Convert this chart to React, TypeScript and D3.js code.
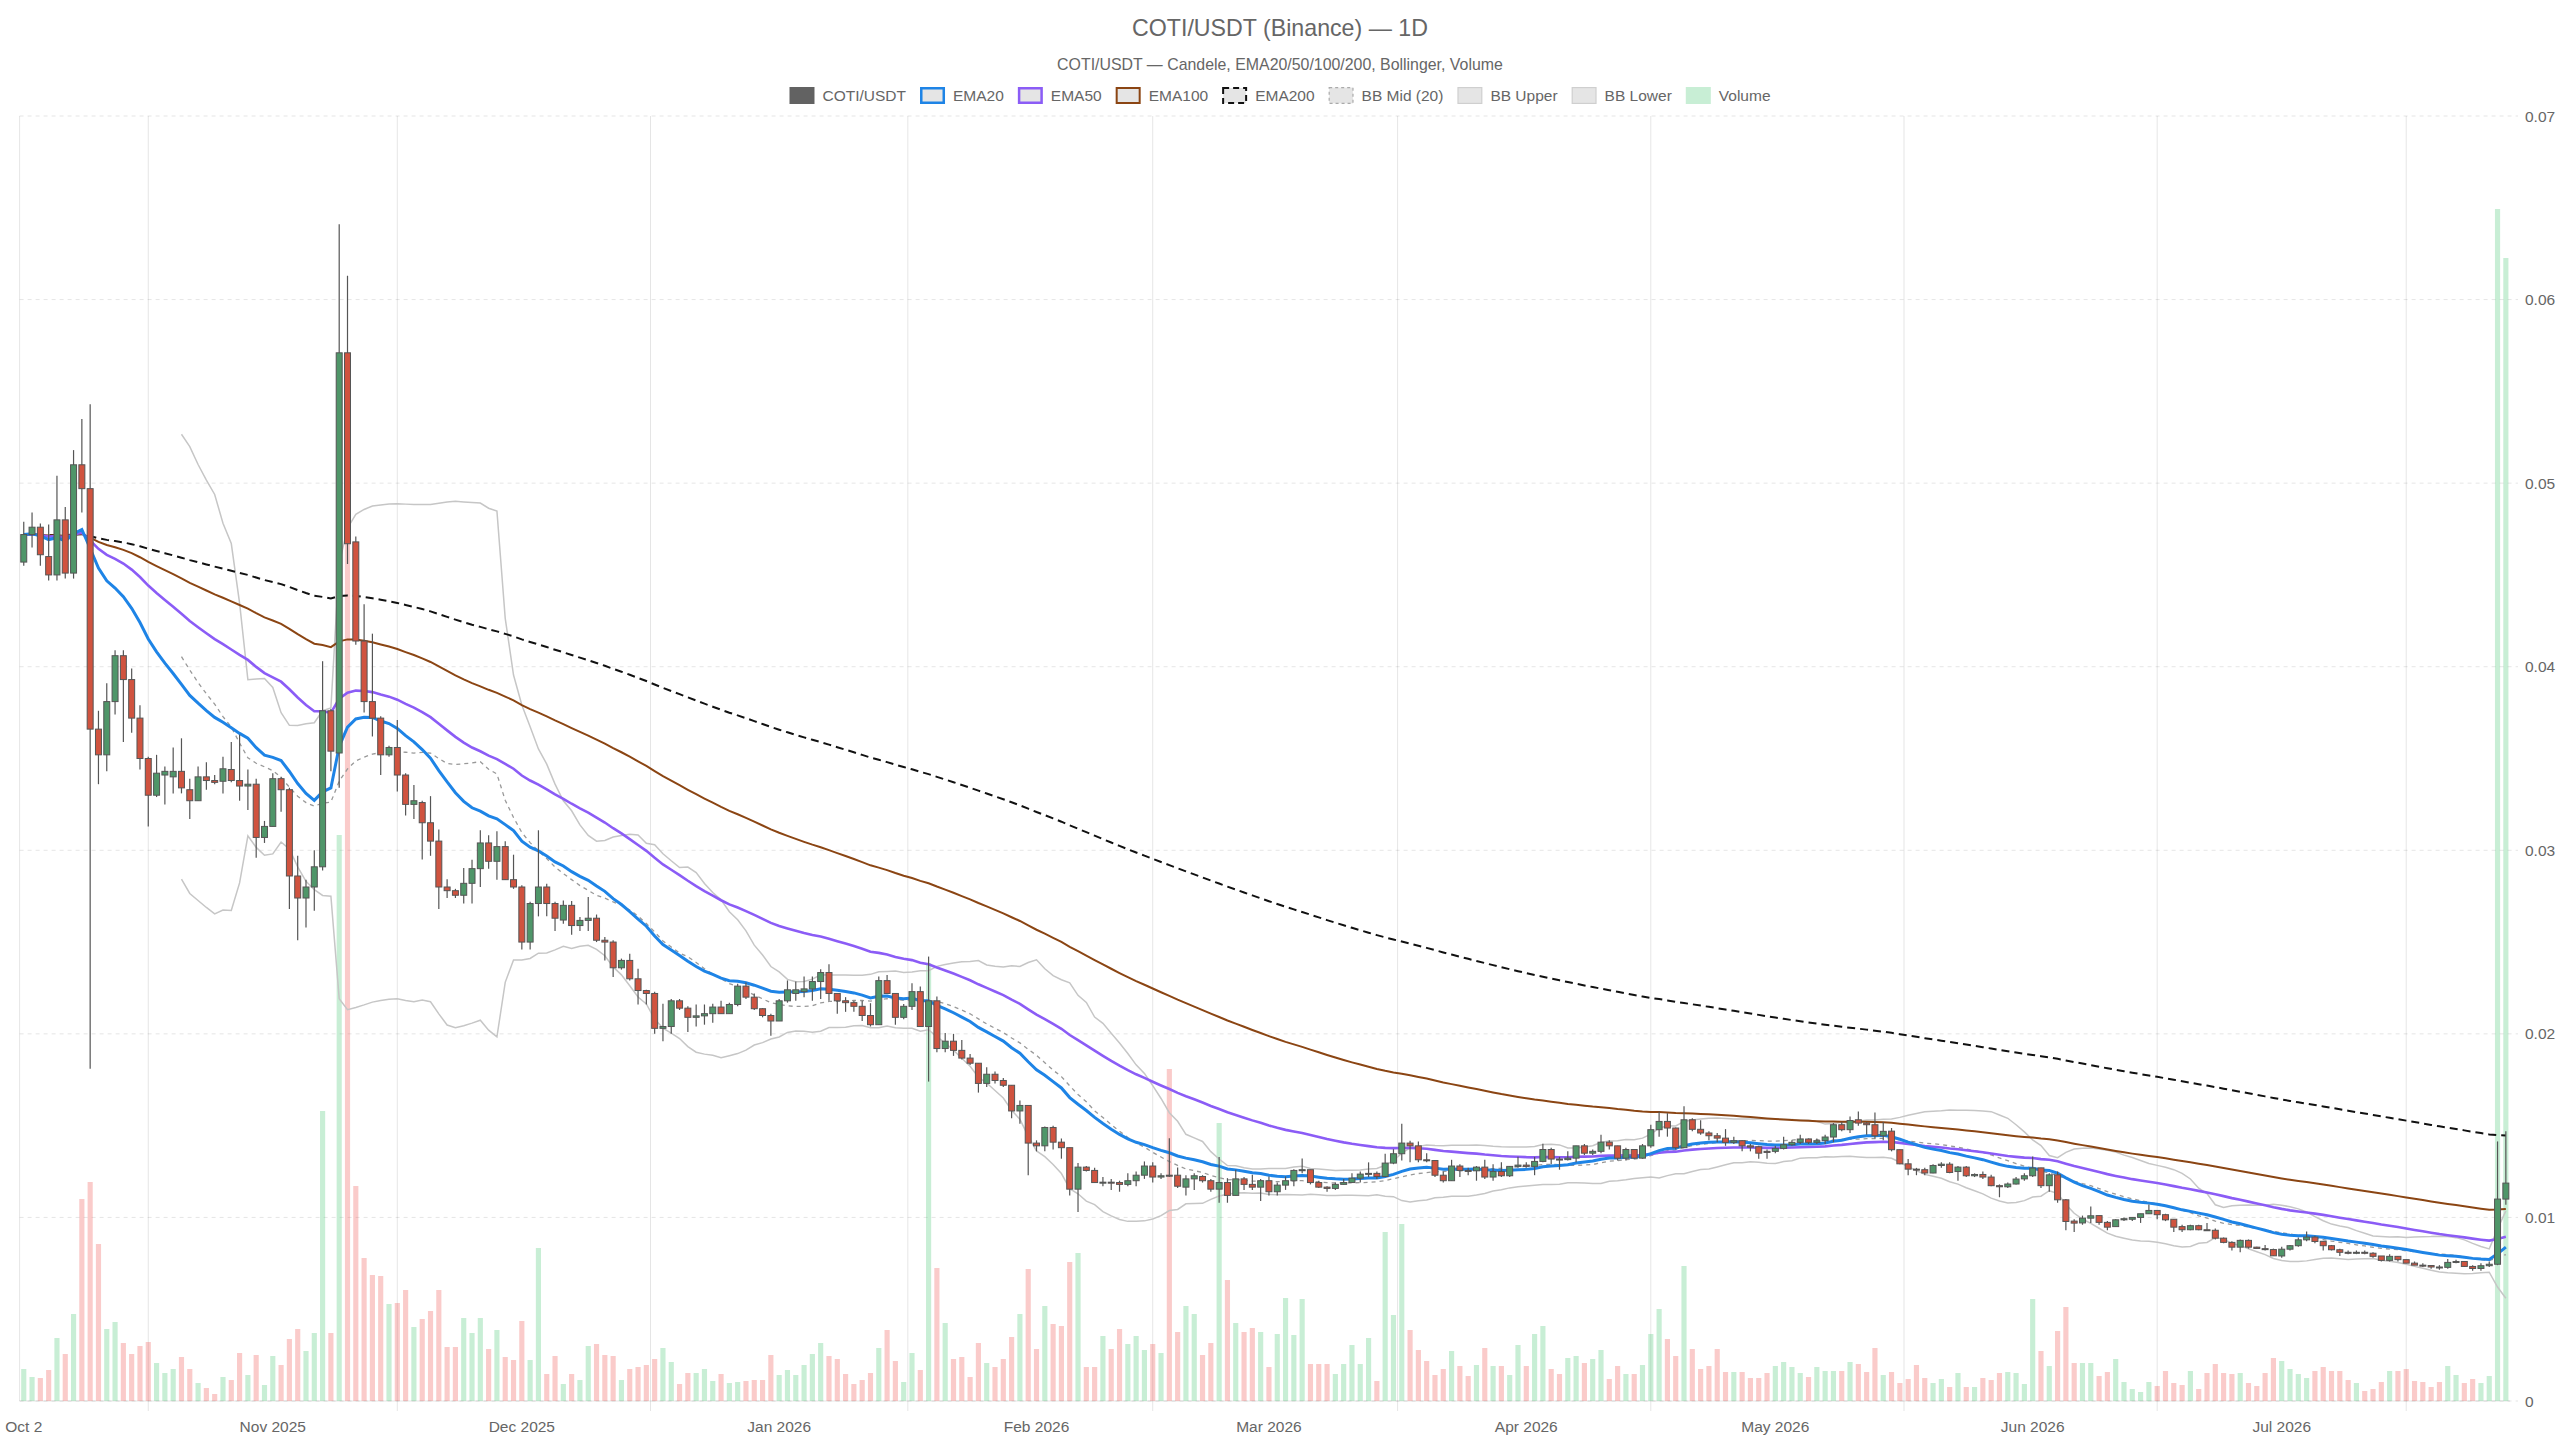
import React, { useMemo } from "react";
import * as d3 from "d3";

// ---------- DATA ----------
const startDate = "2025-10-02";

const open = [
  0.0457, 0.0472, 0.0476, 0.046, 0.045, 0.048, 0.0451, 0.051, 0.0497, 0.0366,
  0.0352, 0.0381, 0.0406, 0.0393, 0.0372, 0.035, 0.033, 0.0341, 0.034, 0.0343,
  0.0333, 0.0327, 0.034, 0.0338, 0.03376, 0.0344, 0.0338, 0.0335, 0.0336, 0.0307,
  0.0313, 0.0339, 0.0333, 0.0286, 0.0274, 0.028, 0.0291, 0.0376, 0.0353, 0.0571,
  0.0468, 0.0414, 0.0381, 0.0372, 0.0352, 0.0356, 0.0341, 0.0325, 0.0326, 0.0315,
  0.0305, 0.028, 0.0278, 0.02755, 0.0282, 0.029, 0.0304, 0.0294, 0.0302, 0.0284,
  0.028, 0.025, 0.0271, 0.028, 0.0271, 0.0262, 0.027, 0.0259, 0.02618, 0.0263,
  0.0251, 0.025, 0.0236, 0.024, 0.023, 0.02236, 0.0222, 0.0203, 0.0204, 0.0218,
  0.0214, 0.0209, 0.02098, 0.0211, 0.02146, 0.0211, 0.0216, 0.0226, 0.022, 0.02137,
  0.021, 0.0207, 0.0218, 0.0222, 0.0223, 0.02245, 0.02285, 0.02334, 0.0222, 0.0218,
  0.0217, 0.0215, 0.021, 0.0205, 0.0229, 0.0222, 0.0209, 0.0215, 0.0223, 0.0204,
  0.0218, 0.0192, 0.0196, 0.0191, 0.01868, 0.0184, 0.0173, 0.0178, 0.01746, 0.0172,
  0.0158, 0.0161, 0.01405, 0.0139, 0.0149, 0.0141, 0.0138, 0.01154, 0.01274, 0.01256,
  0.0119, 0.01192, 0.0119, 0.0118, 0.012, 0.0123, 0.0128, 0.0122, 0.0123, 0.0123,
  0.01165, 0.0121, 0.01223, 0.012, 0.01154, 0.0119, 0.0112, 0.0121, 0.0118, 0.01165,
  0.012, 0.0114, 0.01176, 0.012, 0.01256, 0.0126, 0.0119, 0.01165, 0.01158, 0.0118,
  0.0119, 0.01214, 0.01236, 0.0124, 0.01223, 0.01296, 0.01347, 0.01405, 0.0139, 0.01314,
  0.0131, 0.0123, 0.012, 0.0128, 0.01256, 0.01254, 0.01274, 0.0122, 0.0125, 0.01227,
  0.01278, 0.01285, 0.01278, 0.01305, 0.0137, 0.01318, 0.01315, 0.01323, 0.0139, 0.0135,
  0.0136, 0.0141, 0.0139, 0.01323, 0.0137, 0.01323, 0.0139, 0.01478, 0.01523, 0.01487,
  0.0138, 0.01532, 0.0148, 0.0146, 0.01445, 0.01432, 0.01409, 0.01418, 0.0139, 0.01385,
  0.0136, 0.0136, 0.01376, 0.01396, 0.01409, 0.01427, 0.01409, 0.01418, 0.01438, 0.01505,
  0.01478, 0.01532, 0.01514, 0.01505, 0.01445, 0.0147, 0.01369, 0.01292, 0.01263, 0.0126,
  0.01242, 0.01283, 0.0129, 0.0125, 0.01274, 0.01227, 0.01234, 0.0122, 0.01173, 0.01167,
  0.01182, 0.0121, 0.01227, 0.0127, 0.01173, 0.01232, 0.01096, 0.0098, 0.0097, 0.00996,
  0.0101, 0.00973, 0.0095, 0.00987, 0.0099, 0.01, 0.0102, 0.01038, 0.01015, 0.0099,
  0.0095, 0.00933, 0.00955, 0.00933, 0.0093, 0.00887, 0.00864, 0.00838, 0.00875, 0.00838,
  0.0083, 0.00825, 0.0079, 0.00827, 0.00846, 0.00878, 0.00893, 0.0087, 0.00846, 0.00824,
  0.0081, 0.00805, 0.0081, 0.00805, 0.0079, 0.00766, 0.00788, 0.0077, 0.00751, 0.0074,
  0.00738, 0.0073, 0.00728, 0.00755, 0.0076, 0.00733, 0.00722, 0.00737, 0.00745, 0.011,
];

const close = [
  0.0472, 0.0476, 0.0461, 0.045, 0.048, 0.0451, 0.051, 0.0497, 0.0366, 0.0352,
  0.0381, 0.0406, 0.0393, 0.0372, 0.035, 0.033, 0.0342, 0.0343, 0.0343, 0.0334,
  0.0327, 0.034, 0.0338, 0.0337, 0.03444, 0.0338, 0.0335, 0.0336, 0.0307, 0.0313,
  0.0339, 0.0333, 0.0286, 0.0274, 0.028, 0.0291, 0.0376, 0.0354, 0.0571, 0.0467,
  0.0414, 0.0381, 0.0372, 0.0352, 0.0356, 0.0341, 0.0325, 0.0327, 0.0315, 0.0305,
  0.028, 0.0278, 0.02755, 0.0282, 0.029, 0.0304, 0.0294, 0.0302, 0.0284, 0.028,
  0.025, 0.0271, 0.028, 0.0271, 0.0263, 0.027, 0.0259, 0.02618, 0.0263, 0.0251,
  0.025, 0.0236, 0.024, 0.023, 0.02236, 0.0222, 0.0203, 0.0204, 0.0218, 0.0214,
  0.0209, 0.02098, 0.0211, 0.02146, 0.0211, 0.0216, 0.0226, 0.022, 0.02137, 0.021,
  0.0207, 0.0218, 0.0224, 0.0224, 0.02245, 0.02285, 0.02334, 0.0222, 0.0218, 0.0217,
  0.0215, 0.021, 0.0205, 0.0229, 0.0222, 0.0209, 0.0215, 0.0223, 0.0204, 0.0218,
  0.0192, 0.0196, 0.0191, 0.01868, 0.0184, 0.0173, 0.0178, 0.01746, 0.0172, 0.0158,
  0.0161, 0.01405, 0.0139, 0.0149, 0.0141, 0.0138, 0.01154, 0.01274, 0.01256, 0.0119,
  0.01192, 0.0119, 0.0118, 0.012, 0.0123, 0.0128, 0.0122, 0.01227, 0.01225, 0.0117,
  0.0121, 0.01227, 0.012, 0.01154, 0.0119, 0.0112, 0.0121, 0.0118, 0.01165, 0.012,
  0.0114, 0.01176, 0.012, 0.01256, 0.0126, 0.0119, 0.01165, 0.01158, 0.0118, 0.0119,
  0.01214, 0.01236, 0.0124, 0.01223, 0.01296, 0.01347, 0.01405, 0.0139, 0.01314, 0.01309,
  0.0123, 0.012, 0.0128, 0.01256, 0.01254, 0.01274, 0.0122, 0.0125, 0.01227, 0.01278,
  0.01285, 0.01278, 0.01305, 0.0137, 0.01318, 0.01315, 0.01323, 0.0139, 0.0135, 0.0136,
  0.0141, 0.0139, 0.01323, 0.0137, 0.01323, 0.0139, 0.01478, 0.01523, 0.01487, 0.0138,
  0.01532, 0.0148, 0.0146, 0.01445, 0.01432, 0.01409, 0.01418, 0.0139, 0.01383, 0.0135,
  0.01354, 0.01376, 0.01396, 0.01409, 0.01427, 0.01409, 0.01418, 0.01438, 0.01505, 0.01478,
  0.01528, 0.01514, 0.01505, 0.01445, 0.01469, 0.01369, 0.01292, 0.01263, 0.0126, 0.01242,
  0.01283, 0.0129, 0.01245, 0.01274, 0.01227, 0.01234, 0.0122, 0.01173, 0.01167, 0.01182,
  0.01209, 0.01227, 0.01269, 0.01173, 0.01232, 0.01096, 0.00978, 0.00969, 0.00996, 0.01009,
  0.00973, 0.00947, 0.00987, 0.00993, 0.01, 0.0102, 0.01038, 0.01015, 0.00987, 0.00947,
  0.00933, 0.00955, 0.00933, 0.0093, 0.00887, 0.00864, 0.00838, 0.00875, 0.00838, 0.00831,
  0.00825, 0.00791, 0.00827, 0.00846, 0.00878, 0.00893, 0.00869, 0.00846, 0.00824, 0.0081,
  0.00805, 0.0081, 0.00805, 0.00788, 0.00766, 0.00788, 0.0077, 0.00751, 0.0074, 0.00738,
  0.0073, 0.00728, 0.00755, 0.0076, 0.00733, 0.00722, 0.00737, 0.00745, 0.011, 0.01187,
];

const high = [
  0.0479, 0.0484, 0.0478, 0.04775, 0.0504, 0.0487, 0.0518, 0.0535, 0.0543, 0.0376,
  0.0391, 0.0409, 0.0409, 0.0399, 0.0379, 0.0351, 0.0352, 0.03456, 0.0356, 0.0361,
  0.0339, 0.03456, 0.0348, 0.0341, 0.0351, 0.0359, 0.0363, 0.0344, 0.0339, 0.0316,
  0.0342, 0.034, 0.0334, 0.0297, 0.0284, 0.03, 0.0403, 0.0377, 0.0641, 0.0613,
  0.0471, 0.0434, 0.0418, 0.0373, 0.0357, 0.0371, 0.0342, 0.03355, 0.0327, 0.03295,
  0.03113, 0.02842, 0.0279, 0.02904, 0.02949, 0.03109, 0.03082, 0.03104, 0.03049, 0.02976,
  0.0281, 0.0272, 0.03109, 0.02818, 0.0272, 0.02727, 0.02724, 0.02636, 0.02745, 0.0265,
  0.02527, 0.0251, 0.0241, 0.02436, 0.02355, 0.0224, 0.0223, 0.02164, 0.0219, 0.0219,
  0.0215, 0.0216, 0.0216, 0.02164, 0.0218, 0.0217, 0.02273, 0.0228, 0.0222, 0.0214,
  0.0211, 0.0219, 0.02291, 0.02285, 0.02312, 0.02312, 0.02352, 0.02379, 0.0222, 0.022,
  0.0218, 0.0218, 0.02167, 0.02312, 0.02321, 0.0222, 0.02163, 0.02276, 0.02258, 0.02421,
  0.02203, 0.02004, 0.02, 0.01967, 0.0189, 0.0184, 0.01818, 0.01795, 0.0176, 0.0172,
  0.01637, 0.0161, 0.0142, 0.01495, 0.015, 0.0143, 0.0138, 0.01296, 0.0128, 0.0127,
  0.0122, 0.0121, 0.012, 0.01241, 0.0125, 0.01305, 0.013, 0.0124, 0.01432, 0.01272,
  0.0123, 0.0124, 0.0123, 0.0121, 0.01329, 0.01214, 0.0126, 0.0122, 0.01232, 0.0121,
  0.01223, 0.0119, 0.01223, 0.01263, 0.01321, 0.0126, 0.012, 0.0117, 0.0119, 0.0121,
  0.01241, 0.0125, 0.013, 0.0125, 0.01347, 0.01372, 0.0151, 0.01418, 0.01414, 0.0135,
  0.0131, 0.0125, 0.01314, 0.0129, 0.0127, 0.0128, 0.01314, 0.0129, 0.013, 0.0128,
  0.0133, 0.013, 0.0133, 0.01401, 0.0138, 0.0133, 0.0136, 0.0139, 0.014, 0.0137,
  0.0145, 0.0142, 0.0139, 0.0138, 0.0137, 0.014, 0.01505, 0.01577, 0.01568, 0.0149,
  0.01605, 0.0154, 0.0153, 0.0147, 0.0146, 0.01481, 0.0144, 0.0142, 0.014, 0.0139,
  0.0137, 0.0139, 0.0144, 0.0142, 0.0145, 0.0143, 0.0143, 0.0145, 0.01514, 0.0152,
  0.0155, 0.01577, 0.0152, 0.01572, 0.0152, 0.01487, 0.0137, 0.01318, 0.0127, 0.0127,
  0.0129, 0.013, 0.013, 0.0128, 0.0128, 0.0124, 0.0125, 0.01232, 0.0118, 0.0119,
  0.0122, 0.0124, 0.01332, 0.0127, 0.0124, 0.0125, 0.011, 0.0099, 0.0101, 0.0106,
  0.0101, 0.0098, 0.0099, 0.01, 0.01, 0.0102, 0.0107, 0.0104, 0.0102, 0.0099,
  0.0096, 0.0096, 0.0096, 0.0097, 0.0094, 0.0089, 0.0087, 0.0088, 0.0088, 0.0084,
  0.0085, 0.0083, 0.0084, 0.0085, 0.0089, 0.00924, 0.009, 0.0087, 0.0085, 0.0083,
  0.0082, 0.0082, 0.0082, 0.0081, 0.0079, 0.008, 0.0079, 0.0077, 0.0076, 0.0075,
  0.0074, 0.0074, 0.00773, 0.0077, 0.0076, 0.0074, 0.0075, 0.0076, 0.01414, 0.01469,
];

const low = [
  0.0455, 0.0465, 0.0455, 0.0447, 0.0447, 0.0448, 0.0448, 0.0484, 0.0181, 0.0336,
  0.0343, 0.0374, 0.0359, 0.0364, 0.0344, 0.0313, 0.0329, 0.0325, 0.0331, 0.0331,
  0.0317, 0.0327, 0.0333, 0.0336, 0.0331, 0.0337, 0.0327, 0.0322, 0.0296, 0.0304,
  0.0313, 0.0321, 0.0268, 0.0251, 0.0258, 0.0267, 0.0289, 0.0343, 0.0334, 0.0456,
  0.0412, 0.0375, 0.0362, 0.0341, 0.0351, 0.0332, 0.0319, 0.0317, 0.0295, 0.0297,
  0.0268, 0.0274, 0.0274, 0.0271, 0.0271, 0.028, 0.029, 0.0284, 0.0284, 0.0279,
  0.0246, 0.0246, 0.0264, 0.0264, 0.0256, 0.026, 0.0254, 0.0256, 0.0256, 0.025,
  0.024, 0.0231, 0.0235, 0.0229, 0.0216, 0.0216, 0.02, 0.0196, 0.02, 0.0213,
  0.0201, 0.0204, 0.0205, 0.0206, 0.0211, 0.0211, 0.0215, 0.0219, 0.0213, 0.0209,
  0.0199, 0.0207, 0.0217, 0.0218, 0.022, 0.0218, 0.0219, 0.0218, 0.0211, 0.0212,
  0.0212, 0.0207, 0.0204, 0.0205, 0.0222, 0.0205, 0.0208, 0.0213, 0.0204, 0.0174,
  0.019, 0.019, 0.0188, 0.0186, 0.0183, 0.0168, 0.0171, 0.0173, 0.0171, 0.0154,
  0.0151, 0.0123, 0.0136, 0.0136, 0.0137, 0.0132, 0.0112, 0.0103, 0.0125, 0.0119,
  0.0117, 0.0115, 0.0114, 0.0117, 0.0117, 0.0121, 0.0119, 0.0121, 0.0122, 0.0116,
  0.0112, 0.0115, 0.0119, 0.0114, 0.0108, 0.0108, 0.0112, 0.0115, 0.0115, 0.0109,
  0.0112, 0.0112, 0.0115, 0.0117, 0.0124, 0.0118, 0.0116, 0.0114, 0.0115, 0.0118,
  0.0119, 0.0119, 0.0122, 0.0121, 0.0122, 0.0129, 0.0131, 0.013, 0.013, 0.013,
  0.0122, 0.0119, 0.012, 0.0122, 0.0123, 0.012, 0.0121, 0.012, 0.0122, 0.0122,
  0.0127, 0.0127, 0.0123, 0.013, 0.0129, 0.0126, 0.0131, 0.013, 0.0134, 0.0134,
  0.0135, 0.0137, 0.0131, 0.0131, 0.0132, 0.0132, 0.0138, 0.0144, 0.0144, 0.0137,
  0.0138, 0.0147, 0.0145, 0.0142, 0.0141, 0.0139, 0.014, 0.0136, 0.0136, 0.0132,
  0.0132, 0.0135, 0.0137, 0.0139, 0.014, 0.014, 0.014, 0.014, 0.0141, 0.0147,
  0.0146, 0.015, 0.0145, 0.0143, 0.0142, 0.0136, 0.0129, 0.0123, 0.0123, 0.0123,
  0.0124, 0.0127, 0.0124, 0.012, 0.0122, 0.0122, 0.0121, 0.0117, 0.0111, 0.0116,
  0.0118, 0.012, 0.0122, 0.0116, 0.0114, 0.0108, 0.0093, 0.0092, 0.0096, 0.0097,
  0.0096, 0.0093, 0.0095, 0.0098, 0.0098, 0.0097, 0.0102, 0.0099, 0.0098, 0.0092,
  0.0092, 0.0093, 0.0093, 0.0093, 0.0088, 0.0086, 0.0082, 0.0081, 0.0083, 0.0083,
  0.0082, 0.0079, 0.0078, 0.0082, 0.0084, 0.0087, 0.0086, 0.0082, 0.0082, 0.0079,
  0.008, 0.008, 0.008, 0.0078, 0.0076, 0.0076, 0.0076, 0.0075, 0.0074, 0.0073,
  0.0072, 0.00715, 0.0072, 0.0075, 0.0073, 0.0071, 0.0071, 0.0073, 0.0074, 0.01069,
];

// volume, millions of COTI
const volume = [
  3.2, 2.4, 2.3, 3.1, 6.3, 4.7, 8.7, 20.2, 21.9, 15.7,
  7.2, 7.9, 5.8, 4.7, 5.5, 5.9, 3.8, 2.8, 3.2, 4.4,
  3.2, 1.8, 1.3, 0.7, 2.4, 2.1, 4.8, 2.6, 4.6, 1.6,
  4.5, 3.6, 6.2, 7.2, 5.0, 6.8, 29.0, 6.8, 56.6, 86.0,
  21.5, 14.3, 12.6, 12.5, 9.7, 9.8, 11.1, 7.4, 8.2, 9.0,
  11.1, 5.4, 5.4, 8.3, 6.8, 8.3, 5.2, 7.1, 4.4, 4.1,
  8.0, 4.1, 15.3, 2.7, 4.5, 1.7, 2.7, 2.1, 5.5, 5.7,
  4.6, 4.5, 2.1, 3.2, 3.4, 3.6, 4.2, 5.3, 3.9, 1.7,
  2.8, 2.8, 3.2, 2.0, 2.7, 1.8, 1.9, 2.0, 2.1, 2.1,
  4.6, 2.6, 3.1, 2.6, 3.6, 4.7, 5.8, 4.5, 4.2, 2.7,
  1.7, 2.1, 2.8, 5.3, 7.1, 4.0, 1.9, 4.8, 3.1, 43.8,
  13.3, 7.8, 4.2, 4.4, 2.4, 5.8, 3.8, 3.4, 4.2, 6.4,
  8.7, 13.2, 5.2, 9.5, 7.7, 7.5, 13.9, 14.8, 3.4, 3.4,
  6.5, 5.2, 7.2, 5.7, 6.5, 5.1, 5.7, 4.8, 33.2, 6.9,
  9.5, 8.7, 4.6, 5.8, 27.8, 12.1, 7.8, 6.9, 7.3, 6.9,
  3.4, 6.7, 10.3, 6.6, 10.2, 3.7, 3.7, 3.7, 2.7, 3.7,
  5.6, 3.7, 6.3, 2.0, 16.9, 8.6, 17.7, 7.1, 5.1, 4.0,
  2.6, 3.2, 5.0, 3.5, 2.5, 3.6, 5.3, 3.5, 3.5, 2.6,
  5.6, 3.5, 6.7, 7.5, 3.2, 2.7, 4.3, 4.5, 3.8, 4.2,
  5.1, 2.2, 3.5, 2.7, 2.7, 3.6, 6.7, 9.2, 6.2, 4.5,
  13.5, 5.2, 3.2, 3.5, 5.2, 2.9, 2.9, 2.9, 2.3, 2.3,
  2.8, 3.5, 3.9, 3.4, 2.8, 2.4, 3.4, 3.0, 3.0, 3.0,
  3.9, 3.7, 2.9, 5.3, 2.6, 2.9, 1.8, 2.2, 3.6, 2.3,
  1.8, 2.2, 1.4, 2.8, 1.4, 1.4, 2.3, 2.1, 2.8, 2.9,
  2.8, 1.7, 10.2, 5.0, 3.5, 7.0, 9.4, 3.8, 3.8, 3.8,
  2.5, 2.9, 4.2, 1.9, 1.2, 0.9, 1.9, 1.5, 3.0, 1.8,
  1.6, 3.0, 1.2, 2.8, 3.7, 2.8, 2.7, 2.8, 1.8, 1.5,
  2.8, 4.3, 4.0, 3.2, 2.7, 2.3, 3.0, 3.4, 3.0, 3.0,
  2.1, 1.8, 1.0, 1.2, 1.9, 3.0, 3.0, 3.2, 2.0, 1.9,
  1.4, 1.9, 3.5, 2.6, 1.8, 2.2, 1.8, 2.5, 119.2, 114.3,
];

const priceTicks = [0, 0.01, 0.02, 0.03, 0.04, 0.05, 0.06, 0.07];
const priceTickLabels = ["0", "0.01", "0.02", "0.03", "0.04", "0.05", "0.06", "0.07"];
const xTickDates = [
  "2025-10-02", "2025-11-01", "2025-12-01", "2026-01-01", "2026-02-01",
  "2026-03-01", "2026-04-01", "2026-05-01", "2026-06-01", "2026-07-01",
];
const xTickLabels = [
  "Oct 2", "Nov 2025", "Dec 2025", "Jan 2026", "Feb 2026",
  "Mar 2026", "Apr 2026", "May 2026", "Jun 2026", "Jul 2026",
];
const legendLabels = [
  "COTI/USDT", "EMA20", "EMA50", "EMA100", "EMA200",
  "BB Mid (20)", "BB Upper", "BB Lower", "Volume",
];
const titleText = "COTI/USDT (Binance) — 1D";
const subtitleText = "COTI/USDT — Candele, EMA20/50/100/200, Bollinger, Volume";

// ---------- helpers ----------
function ema(vals: number[], period: number): number[] {
  const k = 2 / (period + 1);
  const out: number[] = [];
  vals.forEach((v, i) => out.push(i === 0 ? v : v * k + out[i - 1] * (1 - k)));
  return out;
}

function bollinger(vals: number[], period: number, mult: number) {
  return vals.map((_, i) => {
    if (i < period - 1) return null;
    const w = vals.slice(i - period + 1, i + 1);
    const mean = d3.mean(w) as number;
    const sd = Math.sqrt(d3.mean(w, (v) => (v - mean) * (v - mean)) as number);
    return { mid: mean, up: mean + mult * sd, lo: mean - mult * sd };
  });
}

const FONT = "'Liberation Sans', Arial, Helvetica, sans-serif";
const TEXT = "#666";

function measure(text: string, size: number): number {
  if (typeof document === "undefined") return text.length * size * 0.55;
  const c = (measure as any)._c || ((measure as any)._c = document.createElement("canvas"));
  const ctx = c.getContext("2d");
  ctx.font = `${size}px ${FONT}`;
  return ctx.measureText(text).width;
}

export default function App() {
  const W = 2560;
  const H = 1440;
  const left = 19.6;
  const right = 2510;
  const top = 116;
  const bottom = 1401;

  const DAY = 86400000;
  const t0 = Date.parse(startDate + "T00:00:00Z");
  const n = close.length;
  const dates = d3.range(n).map((i) => new Date(t0 + i * DAY));

  const x = d3
    .scaleUtc()
    .domain([new Date(t0 - DAY / 2), new Date(t0 + (n - 1) * DAY + DAY / 2)])
    .range([left, right]);
  const y = d3.scaleLinear().domain([0, 0.07]).range([bottom, top]);
  const yv = d3.scaleLinear().domain([0, 128.5]).range([bottom, top]);

  const colors = {
    up: "#4f9669",
    down: "#d0533f",
    wick: "#555",
    volUp: "rgba(72,199,116,0.3)",
    volDown: "rgba(239,83,80,0.3)",
    ema20: "#1e84e6",
    ema50: "#8b5cf6",
    ema100: "#8b4513",
    ema200: "#111",
    bbMid: "#999",
    bbBand: "#c6c6c6",
    grid: "rgba(0,0,0,0.1)",
  };

  const calc = useMemo(() => {
    return {
      e20: ema(close, 20),
      e50: ema(close, 50),
      e100: ema(close, 100),
      e200: ema(close, 200),
      bb: bollinger(close, 20, 2),
    };
  }, []);

  const lineGen = d3
    .line<[Date, number]>()
    .x((d) => x(d[0]))
    .y((d) => y(d[1]));

  const pts = (arr: number[]) => arr.map((v, i) => [dates[i], v] as [Date, number]);
  const bbPts = (key: "mid" | "up" | "lo") =>
    calc.bb
      .map((b, i) => (b ? ([dates[i], b[key]] as [Date, number]) : null))
      .filter((d) => d !== null) as [Date, number][];

  // x ticks & offset grid lines (between ticks)
  const tickX = xTickDates.map((s) => x(new Date(Date.parse(s + "T00:00:00Z"))));
  const gridX: number[] = [];
  for (let i = 1; i <= tickX.length; i++) {
    const idx = Math.min(i, tickX.length - 1);
    const off = (tickX[idx] - tickX[idx - 1]) / 2;
    const v = i < tickX.length ? tickX[i] - off : tickX[idx] + off;
    if (v >= left - 0.5 && v <= right + 0.5) gridX.push(v);
  }

  const step = (right - left) / n;
  const bodyW = step * 0.72;
  const volW = step * 0.62;

  // legend layout
  const legFont = 15.5;
  const boxW = 25;
  const boxH = 17;
  const gapBT = 8;
  const itemPad = 14;
  const widths = legendLabels.map((l) => boxW + gapBT + measure(l, legFont));
  const totalLeg = d3.sum(widths) + itemPad * (legendLabels.length - 1);
  let cur = W / 2 - totalLeg / 2;
  const legX = widths.map((w) => {
    const s = cur;
    cur += w + itemPad;
    return s;
  });
  const legCy = 95.5;
  const legendStyles = [
    { fill: "#626262", stroke: "#626262", sw: 1, dash: "" },
    { fill: "rgba(0,0,0,0.1)", stroke: colors.ema20, sw: 2.5, dash: "" },
    { fill: "rgba(0,0,0,0.1)", stroke: colors.ema50, sw: 2.5, dash: "" },
    { fill: "rgba(0,0,0,0.1)", stroke: colors.ema100, sw: 2, dash: "" },
    { fill: "rgba(0,0,0,0.1)", stroke: colors.ema200, sw: 2, dash: "6 4" },
    { fill: "rgba(0,0,0,0.1)", stroke: "#aaa", sw: 1.2, dash: "3 3" },
    { fill: "rgba(0,0,0,0.1)", stroke: "#cfcfcf", sw: 1.2, dash: "" },
    { fill: "rgba(0,0,0,0.1)", stroke: "#cfcfcf", sw: 1.2, dash: "" },
    { fill: "rgba(72,199,116,0.3)", stroke: "none", sw: 0, dash: "" },
  ];

  return (
    <svg
      width={W}
      height={H}
      viewBox={`0 0 ${W} ${H}`}
      style={{ position: "absolute", left: 0, top: 0, background: "#fff" }}
      fontFamily={FONT}
    >
      <rect x={0} y={0} width={W} height={H} fill="#fff" />
      {/* Title */}
      <text x={W / 2} y={28} textAnchor="middle" dominantBaseline="central" fontSize={23.2} fill={TEXT}>
        {titleText}
      </text>
      <text x={W / 2} y={64} textAnchor="middle" dominantBaseline="central" fontSize={15.9} fill={TEXT}>
        {subtitleText}
      </text>

      {/* Legend */}
      {legendLabels.map((l, i) => {
        const st = legendStyles[i];
        return (
          <g key={l}>
            <rect
              x={legX[i] + st.sw / 2}
              y={legCy - boxH / 2 + st.sw / 2}
              width={boxW - st.sw}
              height={boxH - st.sw}
              fill={st.fill}
              stroke={st.stroke}
              strokeWidth={st.sw}
              strokeDasharray={st.dash || undefined}
            />
            <text
              x={legX[i] + boxW + gapBT}
              y={legCy}
              dominantBaseline="central"
              fontSize={legFont}
              fill={TEXT}
            >
              {l}
            </text>
          </g>
        );
      })}

      {/* Grid */}
      {priceTicks.map((p, i) => (
        <line
          key={"hg" + i}
          x1={left}
          x2={right + 8}
          y1={y(p)}
          y2={y(p)}
          stroke={colors.grid}
          strokeWidth={1}
          strokeDasharray="4 4"
        />
      ))}
      {gridX.map((gx, i) => (
        <line key={"vg" + i} x1={gx} x2={gx} y1={top} y2={bottom + 10} stroke={colors.grid} strokeWidth={1} />
      ))}
      <line x1={left} x2={left} y1={top} y2={bottom} stroke={colors.grid} strokeWidth={1} />
      <line x1={left} x2={right} y1={bottom} y2={bottom} stroke={colors.grid} strokeWidth={1} />

      {/* Volume */}
      {volume.map((v, i) => {
        const upC = close[i] >= open[i];
        const cx = x(dates[i]);
        return (
          <rect
            key={"v" + i}
            x={cx - volW / 2}
            y={yv(v)}
            width={volW}
            height={bottom - yv(v)}
            fill={upC ? colors.volUp : colors.volDown}
          />
        );
      })}

      {/* Bollinger */}
      <path d={lineGen(bbPts("lo")) || ""} fill="none" stroke={colors.bbBand} strokeWidth={1.5} />
      <path d={lineGen(bbPts("up")) || ""} fill="none" stroke={colors.bbBand} strokeWidth={1.5} />
      <path d={lineGen(bbPts("mid")) || ""} fill="none" stroke={colors.bbMid} strokeWidth={1.3} strokeDasharray="4 4" />

      {/* EMAs */}
      <path d={lineGen(pts(calc.e200)) || ""} fill="none" stroke={colors.ema200} strokeWidth={2} strokeDasharray="8 5" />
      <path d={lineGen(pts(calc.e100)) || ""} fill="none" stroke={colors.ema100} strokeWidth={2} />
      <path d={lineGen(pts(calc.e50)) || ""} fill="none" stroke={colors.ema50} strokeWidth={2.6} />
      <path d={lineGen(pts(calc.e20)) || ""} fill="none" stroke={colors.ema20} strokeWidth={3} />

      {/* Candles */}
      {close.map((c, i) => {
        const o = open[i];
        const hi = Math.max(high[i], o, c);
        const lo = Math.min(low[i], o, c);
        const cx = x(dates[i]);
        const upC = c >= o;
        const yTop = y(Math.max(o, c));
        const yBot = y(Math.min(o, c));
        return (
          <g key={"c" + i}>
            <line x1={cx} x2={cx} y1={y(hi)} y2={y(lo)} stroke={colors.wick} strokeWidth={1.2} />
            <rect
              x={cx - bodyW / 2}
              y={yTop}
              width={bodyW}
              height={Math.max(1, yBot - yTop)}
              fill={upC ? colors.up : colors.down}
              stroke={colors.wick}
              strokeWidth={1}
            />
          </g>
        );
      })}

      {/* Y axis labels (right) */}
      {priceTicks.map((p, i) => (
        <text
          key={"yl" + i}
          x={right + 15}
          y={y(p)}
          dominantBaseline="central"
          fontSize={15.5}
          fill={TEXT}
        >
          {priceTickLabels[i]}
        </text>
      ))}

      {/* X axis labels */}
      {tickX.map((tx, i) => (
        <text
          key={"xl" + i}
          x={tx}
          y={1426}
          textAnchor="middle"
          dominantBaseline="central"
          fontSize={15.5}
          fill={TEXT}
        >
          {xTickLabels[i]}
        </text>
      ))}
    </svg>
  );
}
